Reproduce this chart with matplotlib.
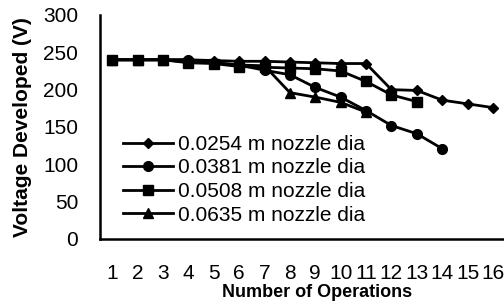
import matplotlib.pyplot as plt

plt.rcParams['font.family'] = ['Liberation Sans', 'DejaVu Sans']

ops = list(range(1, 17))

# voltage for each nozzle diameter
v_0254 = [240, 240, 240, 240, 239, 238, 238, 237, 236, 235, 235, 200, 199, 186, 181, 176]
v_0381 = [240, 240, 240, 240, 236, 233, 226, 220, 203, 190, 172, 152, 141, 121]
v_0508 = [240, 240, 240, 236, 235, 231, 230, 229, 228, 225, 211, 193, 184]
v_0635 = [240, 240, 240, 237, 236, 233, 232, 196, 190, 183, 170]

labels = ['0.0254 m nozzle dia', '0.0381 m nozzle dia',
          '0.0508 m nozzle dia', '0.0635 m nozzle dia']
markers = ['D', 'o', 's', '^']
msizes = [5.5, 7, 6.5, 7]

fig = plt.figure(figsize=(5.04, 3.04), dpi=100)
ax = fig.add_axes([99.6 / 504, 65 / 304, 406 / 504, 224 / 304])

for vals, lab, mk, ms in zip([v_0254, v_0381, v_0508, v_0635], labels, markers, msizes):
    ax.plot(ops[:len(vals)], vals, color='black', lw=2, marker=mk, ms=ms, label=lab)

ax.set_xlim(0.5, 16.5)
ax.set_ylim(0, 300)
ax.set_xticks(ops)
ax.set_yticks(range(0, 301, 50))
ax.tick_params(axis='both', length=0, labelsize=15)
ax.tick_params(axis='y', pad=15.5)
ax.tick_params(axis='x', pad=18)
for s in ['top', 'right']:
    ax.spines[s].set_visible(False)
for s in ['left', 'bottom']:
    ax.spines[s].set_linewidth(1.8)

ax.set_ylabel('Voltage Developed (V)', fontsize=15, fontweight='bold')
ax.yaxis.set_label_coords(-0.167, 0.5)
ax.set_xlabel('Number of Operations', fontsize=13, fontweight='bold')
ax.xaxis.set_label_coords(0.535, -0.20)

ax.legend(loc='upper left', bbox_to_anchor=(0.058, 0.465), frameon=False, fontsize=15,
          handlelength=2.4, handletextpad=0.25, labelspacing=0.22,
          borderaxespad=0, borderpad=0)

fig.savefig('out.png', dpi=100)
